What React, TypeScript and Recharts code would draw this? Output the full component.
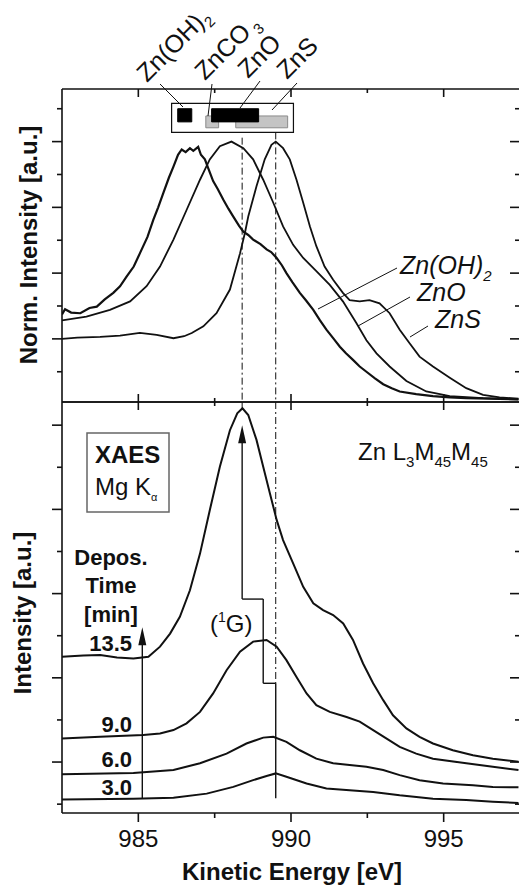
import React from 'react';
import {
  LineChart,
  Line,
  XAxis,
  YAxis,
  ReferenceLine,
  ReferenceArea,
  ReferenceDot,
} from 'recharts';

const FONT = '"Liberation Sans", Arial, Helvetica, sans-serif';

// kinetic energy axis [eV]
const energyDomain = [982.5, 997.5];
const energyTicks = [985, 987.5, 990, 992.5, 995];
const energyLabels = [985, 990, 995];

// intensity axes (arbitrary units)
const topDomain = [-0.96, 3.8];
const topTicks = [-0.5, 0, 0.5, 1, 1.5, 2, 2.5, 3, 3.5];
const bottomDomain = [-0.21, 9.55];
const bottomTicks = [0, 1, 2, 3, 4, 5, 6, 7, 8, 9];

// reference spectra, normalised
const znOH2 = [
  [982.5, 0.37], [982.6, 0.45], [982.8, 0.4], [983.1, 0.39], [983.4, 0.47], [983.64, 0.49],
  [983.9, 0.6], [984.18, 0.7], [984.4, 0.8], [984.62, 0.95], [984.85, 1.1], [985.05, 1.3],
  [985.3, 1.55], [985.49, 1.81], [985.65, 2.0], [985.82, 2.22], [986.0, 2.45], [986.15, 2.62],
  [986.3, 2.8], [986.42, 2.88], [986.55, 2.84], [986.69, 2.9], [986.8, 2.86], [986.96, 2.92],
  [987.05, 2.8], [987.18, 2.73], [987.3, 2.58], [987.45, 2.4], [987.6, 2.28], [987.78, 2.12],
  [987.95, 1.98], [988.11, 1.86], [988.3, 1.72], [988.44, 1.63], [988.6, 1.58], [988.76, 1.51],
  [989.0, 1.44], [989.2, 1.36], [989.35, 1.32], [989.53, 1.23], [989.7, 1.12], [989.85, 1.0],
  [990.05, 0.86], [990.29, 0.7], [990.5, 0.58], [990.73, 0.44], [990.95, 0.28], [991.16, 0.14],
  [991.4, 0.0], [991.6, -0.12], [991.8, -0.22], [992.03, -0.32], [992.25, -0.42],
  [992.47, -0.5], [992.75, -0.6], [993.02, -0.69], [993.3, -0.75], [993.56, -0.8],
  [994.1, -0.84], [994.65, -0.87], [995.2, -0.89], [995.74, -0.9], [996.5, -0.91],
  [997.45, -0.92],
];

const znO = [
  [982.5, 0.28], [983.3, 0.34], [984.07, 0.44], [984.73, 0.57], [985.27, 0.8], [985.71, 1.1],
  [986.15, 1.51], [986.58, 1.96], [987.02, 2.42], [987.34, 2.73], [987.67, 2.93], [988.05, 3.0],
  [988.44, 2.9], [988.76, 2.73], [989.09, 2.42], [989.42, 2.07], [989.74, 1.71], [990.07, 1.43],
  [990.4, 1.23], [990.83, 1.03], [991.27, 0.82], [991.7, 0.57], [992.14, 0.24], [992.47, -0.02],
  [992.8, -0.22], [993.23, -0.42], [993.78, -0.64], [994.43, -0.8], [995.2, -0.87],
  [996.29, -0.9], [997.45, -0.92],
];

const znS = [
  [982.5, 0.0], [983.0, 0.02], [983.75, 0.03], [984.4, 0.05], [985.05, 0.09], [985.6, 0.06],
  [986.15, 0.01], [986.5, 0.04], [986.75, 0.09], [987.13, 0.19], [987.56, 0.39], [988.0, 0.75],
  [988.33, 1.3], [988.49, 1.61], [988.6, 1.86], [988.87, 2.32], [989.14, 2.73], [989.36, 2.95],
  [989.5, 3.0], [989.74, 2.9], [989.96, 2.73], [990.18, 2.42], [990.4, 2.07], [990.62, 1.71],
  [990.83, 1.41], [991.1, 1.1], [991.38, 0.9], [991.7, 0.7], [991.92, 0.59], [992.25, 0.57],
  [992.57, 0.59], [992.9, 0.54], [993.23, 0.39], [993.56, 0.14], [993.89, -0.07],
  [994.21, -0.27], [994.65, -0.42], [995.2, -0.59], [995.74, -0.75], [996.29, -0.85],
  [996.83, -0.89], [997.45, -0.91],
];

// deposition series
const depo135 = [
  [982.5, 3.5], [983.2, 3.53], [983.75, 3.54], [984.3, 3.48], [984.84, 3.46], [985.33, 3.5],
  [985.71, 3.74], [986.04, 4.05], [986.36, 4.45], [986.69, 5.08], [987.02, 5.95], [987.34, 6.98],
  [987.67, 8.01], [988.0, 8.88], [988.24, 9.28], [988.41, 9.4], [988.6, 9.24], [988.87, 8.65],
  [989.09, 8.01], [989.31, 7.38], [989.53, 6.75], [989.74, 6.27], [990.07, 5.72], [990.4, 5.16],
  [990.73, 4.77], [991.05, 4.61], [991.38, 4.49], [991.71, 4.29], [992.03, 3.9], [992.36, 3.34],
  [992.69, 2.87], [993.02, 2.47], [993.34, 2.11], [993.78, 1.8], [994.21, 1.6], [994.65, 1.44],
  [995.3, 1.28], [995.96, 1.16], [996.61, 1.08], [997.45, 1.01],
];

const depo90 = [
  [982.5, 1.56], [983.75, 1.6], [985.16, 1.64], [985.71, 1.68], [986.15, 1.76], [986.58, 1.92],
  [987.02, 2.19], [987.45, 2.63], [987.89, 3.18], [988.33, 3.62], [988.76, 3.86], [989.2, 3.9],
  [989.53, 3.74], [989.85, 3.42], [990.18, 3.02], [990.51, 2.63], [990.83, 2.35], [991.27, 2.19],
  [991.82, 2.07], [992.25, 1.96], [992.69, 1.76], [993.12, 1.56], [993.56, 1.36], [994.1, 1.2],
  [994.65, 1.08], [995.74, 0.97], [996.61, 0.89], [997.45, 0.81],
];

const depo60 = [
  [982.5, 0.71], [984.84, 0.74], [986.15, 0.81], [987.02, 0.97], [987.89, 1.2], [988.54, 1.44],
  [989.09, 1.58], [989.42, 1.6], [989.85, 1.48], [990.29, 1.28], [990.83, 1.08], [991.38, 0.97],
  [991.92, 0.93], [992.47, 0.89], [993.02, 0.81], [993.56, 0.69], [994.21, 0.57], [994.98, 0.49],
  [995.96, 0.45], [996.61, 0.41], [997.45, 0.4],
];

const depo30 = [
  [982.5, 0.11], [984.84, 0.13], [986.15, 0.15], [987.24, 0.25], [988.11, 0.41], [988.76, 0.57],
  [989.2, 0.67], [989.5, 0.73], [989.85, 0.65], [990.51, 0.49], [991.16, 0.37], [991.92, 0.33],
  [992.69, 0.29], [993.56, 0.21], [994.65, 0.13], [995.74, 0.1], [996.61, 0.06], [997.45, 0.03],
];

// literature ranges shown in the inset box
const blackRanges = [
  { lo: 986.29, hi: 986.75 }, // Zn(OH)2
  { lo: 987.4, hi: 988.94 }, // ZnO
];
const grayRanges = [
  { lo: 987.21, hi: 987.63 }, // ZnCO3
  { lo: 988.19, hi: 989.89 }, // ZnS
];

const pts = (a: number[][]) => a.map(([x, y]) => ({ x, y }));

const INK = '#111';
const dashDot = '7 3 2 3';

type Dir = 'left' | 'right' | 'up' | 'down';

const makeTick =
  (dir: Dir, isMajor: (v: number) => boolean, major: number, minor: number, labels?: number[]) =>
  (props: any) => {
    const { x, y, payload } = props;
    const v = payload.value;
    const len = isMajor(v) ? major : minor;
    let x2 = x;
    let y2 = y;
    if (dir === 'left') x2 = x - len;
    if (dir === 'right') x2 = x + len;
    if (dir === 'up') y2 = y - len;
    if (dir === 'down') y2 = y + len;
    return (
      <g>
        <line x1={x} y1={y} x2={x2} y2={y2} stroke={INK} strokeWidth={1.6} />
        {labels && labels.includes(v) && (
          <text x={x} y={y + 34} textAnchor="middle" fontSize={24} fontFamily={FONT} fill={INK}>
            {v}
          </text>
        )}
      </g>
    );
  };

const intMajor = (v: number) => Math.abs(v - Math.round(v)) < 1e-6;
const oddMajor = (v: number) => Math.round(v) % 2 === 1;
const eMajor = (v: number) => v % 5 === 0;

const axisCommon = {
  tickSize: 0,
  tickMargin: 0,
  tickLine: false,
  interval: 0 as const,
  axisLine: { stroke: INK, strokeWidth: 1.6 },
  allowDataOverflow: true,
};

const arrowHead = (p: any) => (
  <path
    d={`M${p.cx},${p.cy} L${p.cx - 4},${p.cy + 18} L${p.cx + 4},${p.cy + 18} Z`}
    fill={INK}
  />
);

const App: React.FC = () => {
  const lineProps = {
    type: 'linear' as const,
    dataKey: 'y',
    stroke: INK,
    dot: false,
    isAnimationActive: false,
    xAxisId: 'b',
    yAxisId: 'l',
  };

  return (
    <div
      style={{
        position: 'absolute',
        left: 0,
        top: 0,
        width: 519,
        height: 893,
        overflow: 'hidden',
        background: '#fff',
        fontFamily: FONT,
      }}
    >
      {/* top panel: reference compounds */}
      <div style={{ position: 'absolute', left: 0, top: 0 }}>
        <LineChart width={530} height={420} margin={{ top: 89, right: 10, bottom: 18, left: 42 }}>
          <XAxis
            xAxisId="b"
            dataKey="x"
            type="number"
            orientation="bottom"
            mirror
            domain={energyDomain}
            ticks={energyTicks}
            tick={makeTick('up', eMajor, 8, 4)}
            {...axisCommon}
          />
          <XAxis
            xAxisId="t"
            dataKey="x"
            type="number"
            orientation="top"
            mirror
            domain={energyDomain}
            ticks={energyTicks}
            tick={makeTick('down', eMajor, 8, 4)}
            {...axisCommon}
          />
          <YAxis
            yAxisId="l"
            type="number"
            width={20}
            domain={topDomain}
            ticks={topTicks}
            tick={makeTick('left', intMajor, 10, 5)}
            {...axisCommon}
          />
          <YAxis
            yAxisId="r"
            type="number"
            orientation="right"
            mirror
            domain={topDomain}
            ticks={topTicks}
            tick={makeTick('left', intMajor, 10, 5)}
            {...axisCommon}
          />
          <ReferenceArea
            xAxisId="b"
            yAxisId="l"
            x1={986.09}
            x2={990.08}
            y1={3.14}
            y2={3.58}
            fill="#fff"
            fillOpacity={1}
            stroke={INK}
            strokeWidth={1.2}
          />
          {grayRanges.map((r, i) => (
            <ReferenceArea
              key={'g' + i}
              xAxisId="b"
              yAxisId="l"
              x1={r.lo}
              x2={r.hi}
              y1={3.21}
              y2={3.39}
              fill="#c4c4c4"
              fillOpacity={1}
              stroke="#8a8a8a"
              strokeWidth={1}
            />
          ))}
          {blackRanges.map((r, i) => (
            <ReferenceArea
              key={'b' + i}
              xAxisId="b"
              yAxisId="l"
              x1={r.lo}
              x2={r.hi}
              y1={3.3}
              y2={3.5}
              fill="#000"
              fillOpacity={1}
              stroke="#000"
            />
          ))}
          <ReferenceLine
            xAxisId="b"
            yAxisId="l"
            segment={[{ x: 988.4, y: 3.06 }, { x: 988.4, y: -0.96 }]}
            stroke={INK}
            strokeWidth={1}
            strokeDasharray={dashDot}
          />
          <ReferenceLine
            xAxisId="b"
            yAxisId="l"
            segment={[{ x: 989.5, y: 3.14 }, { x: 989.5, y: -0.96 }]}
            stroke={INK}
            strokeWidth={1}
            strokeDasharray={dashDot}
          />
          <Line {...lineProps} data={pts(znOH2)} strokeWidth={2.2} />
          <Line {...lineProps} data={pts(znO)} strokeWidth={1.8} />
          <Line {...lineProps} data={pts(znS)} strokeWidth={1.8} />
        </LineChart>
      </div>

      {/* bottom panel: deposition series */}
      <div style={{ position: 'absolute', left: 0, top: 0 }}>
        <LineChart width={530} height={893} margin={{ top: 402, right: 10, bottom: 40, left: 42 }}>
          <XAxis
            xAxisId="b"
            dataKey="x"
            type="number"
            orientation="bottom"
            height={40}
            domain={energyDomain}
            ticks={energyTicks}
            tick={makeTick('down', eMajor, 9, 5, energyLabels)}
            {...axisCommon}
          />
          <XAxis
            xAxisId="t"
            dataKey="x"
            type="number"
            orientation="top"
            mirror
            domain={energyDomain}
            ticks={energyTicks}
            tick={makeTick('down', eMajor, 8, 4)}
            {...axisCommon}
          />
          <YAxis
            yAxisId="l"
            type="number"
            width={20}
            domain={bottomDomain}
            ticks={bottomTicks}
            tick={makeTick('left', oddMajor, 10, 5)}
            {...axisCommon}
          />
          <YAxis
            yAxisId="r"
            type="number"
            orientation="right"
            mirror
            domain={bottomDomain}
            ticks={bottomTicks}
            tick={makeTick('left', oddMajor, 10, 5)}
            {...axisCommon}
          />
          {/* (1G) marker lines */}
          <ReferenceLine
            xAxisId="b"
            yAxisId="l"
            segment={[{ x: 988.4, y: 9.55 }, { x: 988.4, y: 9.4 }]}
            stroke={INK}
            strokeWidth={1}
            strokeDasharray={dashDot}
          />
          <ReferenceLine
            xAxisId="b"
            yAxisId="l"
            segment={[{ x: 989.5, y: 9.55 }, { x: 989.5, y: 2.87 }]}
            stroke={INK}
            strokeWidth={1}
            strokeDasharray={dashDot}
          />
          <ReferenceLine
            xAxisId="b"
            yAxisId="l"
            segment={[{ x: 988.4, y: 4.87 }, { x: 988.4, y: 8.6 }]}
            stroke={INK}
            strokeWidth={1.4}
          />
          <ReferenceLine
            xAxisId="b"
            yAxisId="l"
            segment={[{ x: 988.4, y: 4.87 }, { x: 989.09, y: 4.87 }]}
            stroke={INK}
            strokeWidth={1.4}
          />
          <ReferenceLine
            xAxisId="b"
            yAxisId="l"
            segment={[{ x: 989.09, y: 4.87 }, { x: 989.09, y: 2.87 }]}
            stroke={INK}
            strokeWidth={1.4}
          />
          <ReferenceLine
            xAxisId="b"
            yAxisId="l"
            segment={[{ x: 989.09, y: 2.87 }, { x: 989.5, y: 2.87 }]}
            stroke={INK}
            strokeWidth={1.4}
          />
          <ReferenceLine
            xAxisId="b"
            yAxisId="l"
            segment={[{ x: 989.5, y: 2.87 }, { x: 989.5, y: 0.14 }]}
            stroke={INK}
            strokeWidth={1.4}
          />
          <ReferenceDot xAxisId="b" yAxisId="l" x={988.4} y={9.0} shape={arrowHead} />
          {/* deposition-time arrow */}
          <ReferenceLine
            xAxisId="b"
            yAxisId="l"
            segment={[{ x: 985.13, y: 0.14 }, { x: 985.13, y: 3.8 }]}
            stroke={INK}
            strokeWidth={1.4}
          />
          <ReferenceDot xAxisId="b" yAxisId="l" x={985.13} y={4.2} shape={arrowHead} />
          <Line {...lineProps} data={pts(depo135)} strokeWidth={2} />
          <Line {...lineProps} data={pts(depo90)} strokeWidth={2} />
          <Line {...lineProps} data={pts(depo60)} strokeWidth={2} />
          <Line {...lineProps} data={pts(depo30)} strokeWidth={2} />
        </LineChart>
      </div>

      {/* annotations */}
      <svg
        width={519}
        height={893}
        style={{ position: 'absolute', left: 0, top: 0, pointerEvents: 'none' }}
        fontFamily={FONT}
        fill={INK}
      >
        {/* axis titles */}
        <text
          x={37}
          y={245}
          transform="rotate(-90 37 245)"
          textAnchor="middle"
          fontSize={24}
          fontWeight="bold"
        >
          Norm. Intensity [a.u.]
        </text>
        <text
          x={31}
          y={613}
          transform="rotate(-90 31 613)"
          textAnchor="middle"
          fontSize={24}
          fontWeight="bold"
        >
          Intensity [a.u.]
        </text>
        <text x={292} y={880} textAnchor="middle" fontSize={24} fontWeight="bold">
          Kinetic Energy [eV]
        </text>

        {/* inset labels, rotated */}
        <g fontSize={25}>
          <text x={147} y={83} transform="rotate(-45 147 83)">
            Zn(OH)<tspan fontSize={15} dy={6}>2</tspan>
          </text>
          <text x={205} y={81} transform="rotate(-45 205 81)">
            ZnCO<tspan fontSize={15} dy={6}> 3</tspan>
          </text>
          <text x={248} y={79} transform="rotate(-45 248 79)">
            ZnO
          </text>
          <text x={287} y={80} transform="rotate(-45 287 80)">
            ZnS
          </text>
        </g>
        <g stroke={INK} strokeWidth={1}>
          <line x1={160} y1={84} x2={183} y2={107} />
          <line x1={212} y1={84} x2={208} y2={116} />
          <line x1={260} y1={81} x2={240} y2={108} />
          <line x1={297} y1={83} x2={272} y2={110} />
          <line x1={397} y1={268} x2={318} y2={309} />
          <line x1={410} y1={297} x2={358} y2={326} />
          <line x1={428} y1={326} x2={410} y2={337} />
        </g>

        {/* curve labels, top panel */}
        <g fontSize={25} fontStyle="italic">
          <text x={400} y={274}>
            Zn(OH)<tspan fontSize={15} dy={7}>2</tspan>
          </text>
          <text x={417} y={301}>ZnO</text>
          <text x={435} y={328}>ZnS</text>
        </g>

        {/* bottom panel */}
        <text x={358} y={460} fontSize={24}>
          Zn L<tspan fontSize={15} dy={7}>3</tspan>
          <tspan dy={-7}>M</tspan>
          <tspan fontSize={15} dy={7}>45</tspan>
          <tspan dy={-7}>M</tspan>
          <tspan fontSize={15} dy={7}>45</tspan>
        </text>
        <rect x={87} y={433} width={82} height={79} fill="none" stroke="#666" strokeWidth={1.5} />
        <text x={95} y={463} fontSize={24} fontWeight="bold">
          XAES
        </text>
        <text x={95} y={495} fontSize={24}>
          Mg K<tspan fontSize={11} dy={6}>α</tspan>
        </text>
        <text x={210} y={632} fontSize={24}>
          (<tspan fontSize={14} dy={-10}>1</tspan>
          <tspan dy={10}>G)</tspan>
        </text>
        <g fontSize={22} fontWeight="bold" textAnchor="middle">
          <text x={111} y={565}>Depos.</text>
          <text x={111} y={593}>Time</text>
          <text x={111} y={622}>[min]</text>
        </g>
        <g fontSize={22} fontWeight="bold" textAnchor="end">
          <text x={132} y={651}>13.5</text>
          <text x={132} y={732}>9.0</text>
          <text x={132} y={767}>6.0</text>
          <text x={132} y={795}>3.0</text>
        </g>
      </svg>
    </div>
  );
};

export default App;
